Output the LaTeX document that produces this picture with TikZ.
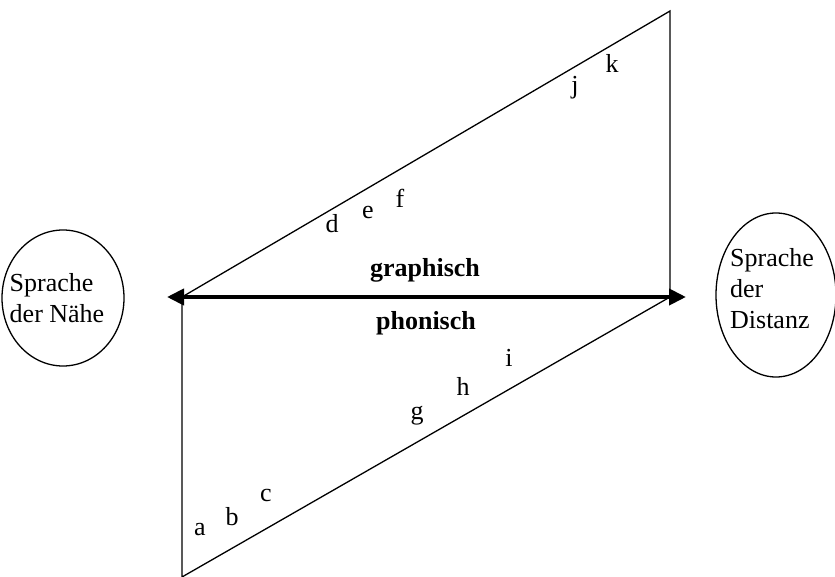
\documentclass[tikz,border=0pt]{standalone}
\usepackage{fontspec}
\setmainfont{Liberation Serif}
\usetikzlibrary{arrows.meta, shapes.geometric}

\begin{document}
\begin{tikzpicture}[x=1pt, y=-1pt, font=\fontsize{26}{31}\selectfont,
    thinline/.style={line width=1.3pt},
    sphere/.style={draw, ellipse, line width=1.3pt, inner sep=0pt}]
  \useasboundingbox (0,0) rectangle (835,577);

  % corners of the two triangles
  \coordinate (top) at (670,11);
  \coordinate (midR) at (670,297);
  \coordinate (midL) at (182,297);
  \coordinate (bot) at (182,577);
  \draw[thinline] (midL) -- (top) -- (midR);
  \draw[thinline] (midL) -- (bot) -- (midR);

  % axis with both ends
  \coordinate (axisL) at (167,297);
  \coordinate (axisR) at (686,297);
  \draw[line width=4pt, {Triangle[length=17pt,width=16pt]}-{Triangle[length=17pt,width=16pt]}]
    (axisL) -- (axisR);
  \node[font=\fontsize{26}{31}\selectfont\bfseries] (graph) at (425,270) {graphisch};
  \node[font=\fontsize{26}{31}\selectfont\bfseries] (phon) at (426,323) {phonisch};

  % the two poles
  \node[sphere, minimum width=122pt, minimum height=136pt] (near) at (63,298) {};
  \node[align=left] (nearText) at (57,298) {Sprache\\der Nähe};
  \node[sphere, minimum width=120pt, minimum height=164pt] (far) at (776,295) {};
  \node[align=left] (farText) at (772,289) {Sprache\\der\\Distanz};

  % letters along the slopes
  \foreach \ch/\px/\py in {a/200/530, b/232/517, c/266/495, d/332/224, e/368/213,
                           f/400/198, g/417/416, h/463/386, i/509/358, j/575/88, k/612/63} {
    \node (\ch) at (\px,\py) {\ch};
  }
\end{tikzpicture}
\end{document}
